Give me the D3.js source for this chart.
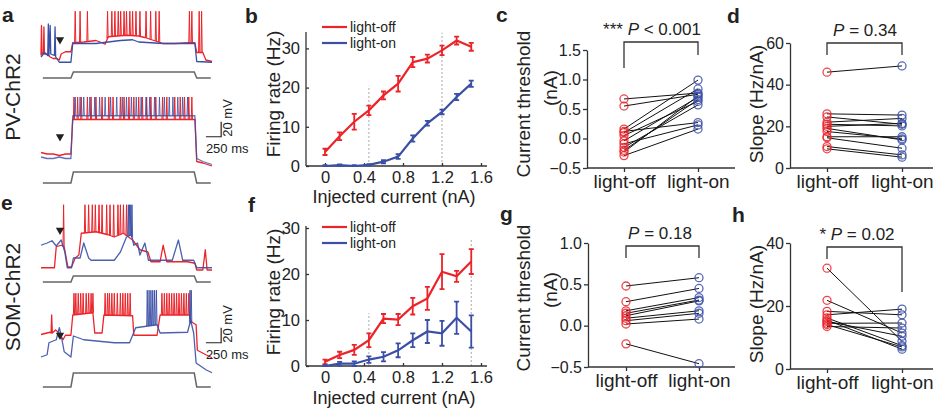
<!DOCTYPE html>
<html>
<head>
<meta charset="utf-8">
<script src="https://cdn.jsdelivr.net/npm/d3@7"></script>
<style>
  body { margin: 0; background: #fff; }
  svg text { font-family: "Liberation Sans", Arial, sans-serif; fill: #222; }
</style>
</head>
<body>
<svg id="fig" width="942" height="414"></svg>
<script>
const RED = "#ec2329", BLUE = "#3a4fa6";

// ---------- f-I curves (b, f)
const currents = [0, 0.15, 0.3, 0.45, 0.6, 0.75, 0.9, 1.05, 1.2, 1.35, 1.5];
const currentTicks = [0, 0.4, 0.8, 1.2, 1.6];
const pvOff = [3.6, 7.6, 11.3, 14.2, 18, 21, 26.5, 27.4, 29.5, 32, 30.4];
const pvOffErr = [0.8, 1, 2, 1.2, 1, 2, 1.3, 1, 1.2, 1, 1];
const pvOn = [0, 0.2, 0, 0.3, 1.1, 2.4, 7, 10.9, 13.8, 17.6, 21];
const pvOnErr = [0.2, 0.2, 0.2, 0.2, 0.4, 0.6, 0.8, 0.6, 0.6, 0.8, 0.8];
const somOff = [0.9, 2.4, 3.5, 5.6, 10.3, 10.1, 13, 14.7, 20.5, 19.5, 22.7];
const somOffErr = [0.5, 0.7, 1.1, 1.5, 1.0, 1.2, 1.8, 2.5, 3.8, 1.2, 2.7];
const somOn = [0, 0.5, 0.5, 1.4, 2, 3.4, 5.6, 7.5, 7.1, 10.5, 7.5];
const somOnErr = [0.2, 0.4, 0.5, 0.7, 1.0, 1.5, 1.5, 2.5, 2.7, 3.5, 3.5];
const rateTicks = [0, 10, 20, 30];

// ---------- paired cells (c, d, g, h)
const conds = ["light-off", "light-on"];
const pvThrOff = [0.67, 0.55, 0.16, 0.12, 0.10, 0.05, -0.04, -0.09, -0.15, -0.20, -0.23, -0.29];
const pvThrOn  = [0.77, 0.75, 0.99, 0.27, 0.84, 0.63, 0.70, 0.23, 0.57, 0.66, 0.72, 0.16];
const pvSlopeOff = [46, 26, 24.5, 22, 21, 20, 19, 17.5, 15, 14.5, 10.3, 9.2];
const pvSlopeOn  = [49, 25.4, 21, 23.8, 20.2, 21.4, 13.5, 14, 15, 9.5, 6.3, 5.2];
const somThrOff = [0.48, 0.29, 0.18, 0.15, 0.12, 0.09, 0.06, 0.02, -0.22];
const somThrOn  = [0.58, 0.45, 0.34, 0.31, 0.30, 0.18, 0.15, 0.08, -0.46];
const somSlopeOff = [32, 21.8, 18.3, 17.2, 16.2, 15.5, 15.1, 14.5, 14.1, 13.5];
const somSlopeOn  = [8.8, 11.4, 17.2, 19, 7.4, 6.3, 10.4, 14.6, 7, 13];

// ---------- example traces: [ms, mV] baseline points + spike times
const stepShape = [[30, 0], [490, 0], [530, 1], [2510, 1], [2550, 0], [2780, 0]];
const aTopRed = [[0,-64],[8,-24],[16,-62],[40,-60],[48,-26],[56,-62],[100,-62],[150,-66],[200,-68],[260,-68],[300,-70],[330,-62],[400,-59],[490,-59],[520,-47],[700,-46],[900,-44],[1000,-47],[1050,-49],[1100,-39],[1400,-37],[1600,-38],[1700,-40],[1850,-44],[2000,-48],[2200,-48],[2400,-47],[2520,-47],[2550,-60],[2650,-60],[2700,-70],[2800,-72]];
const aTopRedSpikes = [560,640,760,1090,1160,1210,1265,1305,1360,1400,1455,1500,1555,1620,1720,1795,1880,1935,2430,2470,2590,2630];
const aTopBlue = [[0,-66],[60,-60],[110,-64],[120,-22],[130,-64],[150,-24],[160,-62],[220,-64],[230,-26],[240,-66],[300,-73],[490,-73],[520,-48],[900,-48],[1100,-46],[1300,-44],[1500,-43],[1600,-46],[2000,-48],[2520,-48],[2550,-72],[2800,-73]];
const aTopBlueSpikes = [];
const aBotRed = [[0,-64],[100,-66],[200,-66],[300,-68],[400,-66],[490,-66],[520,-20],[2520,-20],[2550,-76],[2650,-78],[2800,-82]];
const aBotRedSpikes = [540,600,660,760,820,900,1000,1110,1180,1300,1360,1440,1520,1600,1660,1730,1800,1880,1990,2060,2190,2280,2350,2420,2470];
const aBotBlue = [[0,-70],[100,-72],[200,-72],[300,-70],[400,-72],[490,-72],[520,-15],[2520,-15],[2550,-72],[2650,-76],[2800,-80]];
const aBotBlueSpikes = [560,640,700,800,880,960,1050,1140,1240,1330,1400,1480,1560,1640,1720,1780,1860,1940,2020,2100,2160,2240,2320,2400];
const eTopRed = [[0,-67],[220,-67],[250,-39],[330,-37],[380,-39],[440,-66],[500,-66],[560,-54],[620,-50],[660,-21],[900,-19],[1100,-23],[1200,-26],[1350,-21],[1500,-30],[1620,-43],[1750,-46],[1800,-59],[1950,-59],[2000,-37],[2060,-59],[2400,-59],[2520,-61],[2550,-70],[2650,-70],[2690,-43],[2720,-70],[2800,-70]];
const eTopRedSpikes = [370,720,780,840,890,950,1000,1075,1130,1190,1260,1300,1350,1400];
const eTopBlue = [[0,-37],[100,-34],[180,-31],[250,-38],[330,-30],[390,-46],[430,-67],[500,-67],[530,-54],[640,-54],[700,-34],[780,-54],[820,-57],[1200,-57],[1300,-46],[1400,-26],[1480,-23],[1520,-37],[1580,-34],[1620,-50],[1700,-34],[1760,-57],[2150,-57],[2250,-30],[2320,-57],[2500,-57],[2550,-67],[2800,-67]];
const eTopBlueSpikes = [1430,1450,1470,1490];
const eBotRed = [[0,-36],[150,-33],[165,-34],[175,-10],[185,-34],[240,-30],[300,-34],[360,-43],[400,-37],[490,-37],[520,-10],[850,-7],[880,-34],[1000,-34],[1030,-10],[1500,-11],[1520,-37],[1900,-37],[1950,-10],[2430,-10],[2460,-19],[2540,-23],[2560,-57],[2700,-63],[2800,-67]];
const eBotRedSpikes = [540,570,610,650,690,740,780,820,850,1050,1090,1120,1160,1200,1250,1300,1340,1380,1420,1460,1980,2020,2060,2100,2140,2180,2220,2260,2300,2340,2380,2420];
const eBotBlue = [[0,-66],[100,-63],[130,-47],[250,-43],[300,-27],[330,-37],[380,-59],[490,-66],[530,-38],[700,-43],[1200,-47],[1450,-47],[1550,-27],[1900,-23],[1950,-34],[2400,-33],[2450,-17],[2500,-34],[2540,-74],[2700,-83],[2800,-87]];
const eBotBlueSpikes = [1740,1770,1800,1830,1860,1890,2440,2460];

const svg = d3.select("#fig");
const tx = d3.scaleLinear().domain([0, 2800]).range([41, 212]);

function letter(x, y, s) {
    svg.append("text").attr("x", x).attr("y", y).attr("font-size", 21)
        .attr("font-weight", "bold").text(s);
}

function drawTrace(g, vy, s, color, op) {
    const b = d3.scaleLinear().domain(s.base.map(d => d[0])).range(s.base.map(d => d[1]));
    g.append("path")
        .attr("d", d3.line().x(d => tx(d[0])).y(d => vy(d[1]))(s.base))
        .attr("fill", "none").attr("stroke", color).attr("stroke-width", 1.3)
        .attr("stroke-linejoin", "round").attr("opacity", op);
    const sp = s.spikes.map(t => `M${tx(t) - 0.6},${vy(b(t))}L${tx(t)},${vy(s.peak)}L${tx(t) + 0.6},${vy(b(t))}`).join("");
    if (sp) g.append("path").attr("d", sp).attr("fill", "none")
        .attr("stroke", color).attr("stroke-width", 1).attr("opacity", op);
}

function traceRow(row) {
    const g = svg.append("g");
    const vy = d3.scaleLinear().domain([-70, -50]).range([row.yRest, row.yRest - 15]);
    drawTrace(g, vy, row.red, RED, 1);
    drawTrace(g, vy, row.blue, BLUE, row.blueOp);
    const sy = d3.scaleLinear().domain([0, 1]).range(row.step);
    g.append("path")
        .attr("d", d3.line().x(d => tx(d[0])).y(d => sy(d[1]))(stepShape))
        .attr("fill", "none").attr("stroke", "#666").attr("stroke-width", 1.5);
    g.append("path")
        .attr("d", d3.symbol(d3.symbolTriangle, 30)())
        .attr("transform", `translate(${tx(311)},${vy(row.arrowV)}) rotate(180)`)
        .attr("fill", "#222");
    if (row.bar !== undefined) {
        const cx = tx(2950), cy = vy(row.bar);
        g.append("path")
            .attr("d", `M${tx(2700)},${cy}H${cx}V${vy(row.bar + 20)}`)
            .attr("fill", "none").attr("stroke", "#222").attr("stroke-width", 1.2);
        g.append("text").attr("font-size", 13)
            .attr("transform", `translate(${cx + 11},${cy}) rotate(-90)`).text("20 mV");
        g.append("text").attr("x", tx(2700)).attr("y", cy + 16).attr("font-size", 13).text("250 ms");
    }
}

function fiPanel(o) {
    const g = svg.append("g");
    const x = d3.scaleLinear().domain([0, 1.6]).range([325, 481]);
    const y = d3.scaleLinear().domain([0, 30]).range([o.y0, o.y30]);
    o.dashed.forEach(d => {
        g.append("line").attr("x1", x(d[0])).attr("x2", x(d[0]))
            .attr("y1", y(0)).attr("y2", y(d[1]))
            .attr("stroke", "#aaa").attr("stroke-dasharray", "2,2");
    });
    const xa = g.append("g").attr("transform", `translate(0,${o.y0})`)
        .call(d3.axisBottom(x).tickValues(currentTicks).tickSize(-3).tickSizeOuter(0).tickPadding(5)
            .tickFormat(d => d === 0 ? "0" : d3.format(".1f")(d)));
    xa.select(".domain").attr("d", `M306,0H487`);
    const ya = g.append("g").attr("transform", "translate(306,0)")
        .call(d3.axisLeft(y).tickValues(rateTicks).tickSize(-3).tickSizeOuter(0).tickPadding(6));
    ya.select(".domain").attr("d", `M0,${o.y0}V${o.yTop}`);
    [xa, ya].forEach(a => {
        a.selectAll("path,line").attr("stroke", "#333").attr("stroke-width", 1.3);
        a.selectAll("text").attr("font-size", 16.5).attr("fill", "#222");
    });
    [[o.off, o.offErr, RED], [o.on, o.onErr, BLUE]].forEach(([v, e, c]) => {
        g.append("path")
            .attr("d", d3.line().x((d, i) => x(currents[i])).y(d => y(d))(v))
            .attr("fill", "none").attr("stroke", c).attr("stroke-width", 2.2);
        const eb = v.map((d, i) => {
            const cx = x(currents[i]), t = y(d + e[i]), b = y(Math.max(0, d - e[i]));
            return `M${cx},${t}V${b}M${cx - 2.5},${t}H${cx + 2.5}M${cx - 2.5},${b}H${cx + 2.5}`;
        }).join("");
        g.append("path").attr("d", eb).attr("stroke", c).attr("stroke-width", 1.8).attr("fill", "none");
    });
    [["light-off", RED], ["light-on", BLUE]].forEach(([t, c], i) => {
        const ly = o.legendY[i];
        g.append("line").attr("x1", 322).attr("x2", 347).attr("y1", ly).attr("y2", ly)
            .attr("stroke", c).attr("stroke-width", 2.2);
        g.append("text").attr("x", 350).attr("y", ly + 5).attr("font-size", 14).text(t);
    });
    g.append("text").attr("transform", `translate(280,${o.labelY}) rotate(-90)`)
        .attr("text-anchor", "middle").attr("font-size", 19).text("Firing rate (Hz)");
    g.append("text").attr("x", 394).attr("y", o.xLabelY)
        .attr("text-anchor", "middle").attr("font-size", 18).text("Injected current (nA)");
}

function pairPanel(o) {
    const g = svg.append("g");
    const x = d3.scalePoint().domain(conds).range(o.cx);
    const y = d3.scaleLinear().domain(o.dom).range(o.rng);
    const xa = g.append("g").attr("transform", `translate(0,${o.rng[0]})`)
        .call(d3.axisBottom(x).tickSize(4).tickSizeOuter(0).tickPadding(3));
    xa.select(".domain").attr("d", `M${o.axX[0]},0H${o.axX[1]}`);
    const ya = g.append("g").attr("transform", `translate(${o.axX[0]},0)`)
        .call(d3.axisLeft(y).tickValues(o.ticks).tickSize(4).tickSizeOuter(0).tickPadding(2).tickFormat(o.fmt));
    [xa, ya].forEach(a => {
        a.selectAll("path,line").attr("stroke", "#333").attr("stroke-width", 1.3);
        a.selectAll("text").attr("font-size", 16).attr("fill", "#222");
    });
    xa.selectAll("text").attr("font-size", 19);
    o.off.forEach((d, i) => {
        g.append("line").attr("x1", x(conds[0])).attr("y1", y(d))
            .attr("x2", x(conds[1])).attr("y2", y(o.on[i]))
            .attr("stroke", "#111").attr("stroke-width", 1);
    });
    [[o.off, conds[0], RED], [o.on, conds[1], BLUE]].forEach(([v, c, col]) => {
        g.selectAll(null).data(v).join("circle")
            .attr("cx", x(c)).attr("cy", d => y(d)).attr("r", 4)
            .attr("fill", "none").attr("stroke", col).attr("stroke-width", 1.3).attr("opacity", 0.85);
    });
    const [l, r] = o.cx;
    g.append("path").attr("d", `M${l},${o.br[1]}V${o.br[0]}H${r}V${o.br[2]}`)
        .attr("fill", "none").attr("stroke", "#333").attr("stroke-width", 1.3);
    const t = g.append("text").attr("x", o.pX).attr("y", o.br[0] - 7)
        .attr("text-anchor", "middle").attr("font-size", 17);
    t.append("tspan").text(o.p[0]);
    t.append("tspan").attr("font-style", "italic").text("P");
    t.append("tspan").text(o.p[1]);
    o.title.forEach((s, i) => {
        g.append("text").attr("transform", `translate(${o.titleX[i]},${o.titleY[i]}) rotate(-90)`)
            .attr("text-anchor", "middle").attr("font-size", 19).text(s);
    });
}

// ----- panels a, e
svg.append("text").attr("transform", "translate(20,97) rotate(-90)")
    .attr("text-anchor", "middle").attr("font-size", 21).text("PV-ChR2");
svg.append("text").attr("transform", "translate(20,297) rotate(-90)")
    .attr("text-anchor", "middle").attr("font-size", 21).text("SOM-ChR2");
traceRow({ yRest: 60, step: [78, 72], arrowV: -43, blueOp: 1,
    red: { base: aTopRed, spikes: aTopRedSpikes, peak: -5 },
    blue: { base: aTopBlue, spikes: aTopBlueSpikes, peak: -20 } });
traceRow({ yRest: 157, step: [183, 172], arrowV: -43, blueOp: 0.8, bar: -43,
    red: { base: aBotRed, spikes: aBotRedSpikes, peak: 10 },
    blue: { base: aBotBlue, spikes: aBotBlueSpikes, peak: 10 } });
traceRow({ yRest: 270, step: [282, 276], arrowV: -17, blueOp: 0.9,
    red: { base: eTopRed, spikes: eTopRedSpikes, peak: 17 },
    blue: { base: eTopBlue, spikes: eTopBlueSpikes, peak: 17 } });
traceRow({ yRest: 360, step: [387, 373], arrowV: -37, blueOp: 0.9, bar: -47,
    red: { base: eBotRed, spikes: eBotRedSpikes, peak: 19 },
    blue: { base: eBotBlue, spikes: eBotBlueSpikes, peak: 23 } });

// ----- panels b, f
fiPanel({ y0: 166, y30: 48.4, yTop: 32, off: pvOff, offErr: pvOffErr, on: pvOn, onErr: pvOnErr,
    dashed: [[0.45, 20.5], [1.2, 34]], legendY: [27, 43], labelY: 94, xLabelY: 203 });
fiPanel({ y0: 366, y30: 228, yTop: 226, off: somOff, offErr: somOffErr, on: somOn, onErr: somOnErr,
    dashed: [[0.45, 11.5], [1.5, 27.8]], legendY: [227, 243], labelY: 292, xLabelY: 404 });

// ----- panels c, d, g, h
pairPanel({ cx: [624, 698], axX: [587, 735], dom: [-0.5, 1.5], rng: [168, 50],
    ticks: [-0.5, 0, 0.5, 1, 1.5], fmt: d3.format(".1f"), off: pvThrOff, on: pvThrOn,
    br: [42, 68, 55], pX: 652, p: ["*** ", " < 0.001"],
    title: ["Current threshold", "(nA)"], titleX: [530, 557], titleY: [104, 88] });
pairPanel({ cx: [827, 902], axX: [790, 933], dom: [0, 60], rng: [168, 43],
    ticks: [0, 20, 40, 60], fmt: d3.format("d"), off: pvSlopeOff, on: pvSlopeOn,
    br: [43, 55, 55], pX: 865, p: ["", " = 0.34"],
    title: ["Slope (Hz/nA)"], titleX: [763], titleY: [104] });
pairPanel({ cx: [626, 699], axX: [588, 735], dom: [-0.5, 1.0], rng: [367, 243],
    ticks: [-0.5, 0, 0.5, 1], fmt: d3.format(".1f"), off: somThrOff, on: somThrOn,
    br: [246, 258, 258], pX: 660, p: ["", " = 0.18"],
    title: ["Current threshold", "(nA)"], titleX: [530, 557], titleY: [298, 290] });
pairPanel({ cx: [827, 902], axX: [790, 933], dom: [0, 40], rng: [369, 243],
    ticks: [0, 20, 40], fmt: d3.format("d"), off: somSlopeOff, on: somSlopeOn,
    br: [247, 259, 292], pX: 857, p: ["* ", " = 0.02"],
    title: ["Slope (Hz/nA)"], titleX: [763], titleY: [304] });

letter(2, 22, "a"); letter(245, 23, "b"); letter(496, 22, "c"); letter(727, 23, "d");
letter(1, 210, "e"); letter(248, 212, "f"); letter(500, 221, "g"); letter(732, 222, "h");
</script>
</body>
</html>
